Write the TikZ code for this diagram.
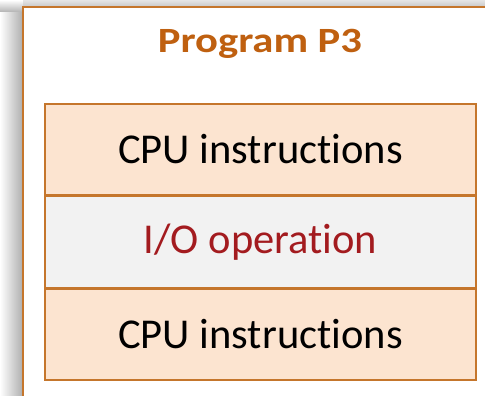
\documentclass[tikz,border=0pt]{standalone}
\usepackage{fontspec}
\setmainfont[Ligatures=NoCommon]{Carlito}
\definecolor{frameorange}{HTML}{C5762C}
\definecolor{titleorange}{HTML}{BF6010}
\definecolor{cpufill}{HTML}{FCE4D0}
\definecolor{iofill}{HTML}{F2F2F2}
\definecolor{iotext}{HTML}{A31B1F}
\tikzset{
  x=1pt, y=-1pt,
  stagebox/.style={draw=frameorange, line width=1.4pt, minimum width=431pt,
    minimum height=91pt, inner sep=0pt, font=\fontsize{42.5}{48}\selectfont},
  cpubox/.style={stagebox, fill=cpufill, text=black},
  iobox/.style={stagebox, fill=iofill, text=iotext},
}
\begin{document}
\begin{tikzpicture}
  \useasboundingbox (0,0) rectangle (485,396);
  % soft drop shadow along the left and top of the frame
  \shade[left color=white, right color=black!32] (0,12) rectangle (23,396);
  \shade[top color=white, bottom color=black!30] (0,12) rectangle (23,0);
  \shade[top color=black!10, bottom color=black!22] (23,0) rectangle (485,7);
  % program frame
  \fill[white] (23,7) rectangle (490,400);
  \draw[frameorange, line width=1.4pt] (23,400) -- (23,7) -- (490,7);
  \node[font=\bfseries\fontsize{35.5}{40}\selectfont, text=titleorange] (title) at (260,43.5)
    {\scalebox{1.2}[1]{Program P3}};
  % stacked stages of the program
  \node[cpubox] (cpu1) at (260.5,149.5) {CPU instructions};
  \node[iobox, anchor=north] (io) at (cpu1.south) {I/O operation};
  \node[cpubox, anchor=north] (cpu2) at (io.south) {CPU instructions};
\end{tikzpicture}
\end{document}
